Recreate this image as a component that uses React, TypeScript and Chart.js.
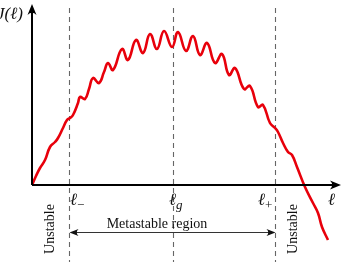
import React, { useEffect, useRef } from "react";
import { Chart, registerables } from "chart.js";

Chart.register(...registerables);

// Curve J(ℓ) (arbitrary units)
const ell = [0.0, 0.4, 0.8, 1.3, 1.8, 2.3, 2.6, 3.1, 3.5, 3.8, 4.1, 4.6, 4.8, 5.3, 5.7, 6.1, 6.7, 7.2, 7.6, 8.1, 9.0, 9.6, 10.4, 11.1, 11.8, 12.5, 13.2, 14.0, 14.6, 15.4, 16.1, 16.8, 17.5, 18.3, 19.0, 19.7, 20.3, 21.2, 21.8, 22.6, 23.1, 23.8, 24.3, 24.6, 25.1, 25.6, 26.0, 26.5, 27.3, 28.1, 28.6, 29.0, 29.6];
const J = [0.0, 0.9, 1.7, 2.5, 3.8, 4.3, 4.7, 5.7, 6.5, 6.7, 7.0, 8.2, 8.8, 8.6, 9.6, 10.7, 10.2, 11.3, 12.2, 11.5, 13.6, 12.5, 14.5, 13.2, 15.1, 13.6, 15.4, 13.8, 15.3, 13.4, 14.9, 13.0, 14.2, 12.2, 13.1, 11.0, 11.7, 9.6, 9.9, 7.8, 8.0, 6.2, 5.7, 5.3, 4.2, 3.3, 3.0, 1.8, -0.2, -1.8, -2.8, -4.2, -5.5];

// Marked lengths and labels
const markPos = [3.7, 14.1, 24.3];
const markSub = ["\u2212", "g", "+"];
const axisLabelX = "\u2113";
const axisLabelY = "J(\u2113)";
const regionLabel = "Metastable region";
const sideLabel = "Unstable";

const FAM = "\"Liberation Serif\"";

function arrowHead(ctx: CanvasRenderingContext2D, x: number, y: number, ang: number, len: number, wid: number) {
  ctx.save();
  ctx.translate(x, y);
  ctx.rotate(ang);
  ctx.beginPath();
  ctx.moveTo(0, 0);
  ctx.lineTo(-len, -wid / 2);
  ctx.quadraticCurveTo(-len * 0.6, 0, -len, wid / 2);
  ctx.closePath();
  ctx.fill();
  ctx.restore();
}

const overlay = {
  id: "overlay",
  beforeDatasetsDraw(chart: any) {
    const ctx = chart.ctx as CanvasRenderingContext2D;
    const xs = chart.scales.x;
    ctx.save();
    ctx.strokeStyle = "#666";
    ctx.lineWidth = 1.1;
    ctx.setLineDash([5, 4]);
    markPos.forEach((m) => {
      const px = Math.round(xs.getPixelForValue(m)) + 0.5;
      ctx.beginPath();
      ctx.moveTo(px, 8);
      ctx.lineTo(px, 262);
      ctx.stroke();
    });
    ctx.restore();
  },
  afterDatasetsDraw(chart: any) {
    const ctx = chart.ctx as CanvasRenderingContext2D;
    const xs = chart.scales.x;
    const ys = chart.scales.y;
    const ox = xs.getPixelForValue(0);
    const oy = ys.getPixelForValue(0);
    ctx.save();
    ctx.strokeStyle = "#000";
    ctx.fillStyle = "#000";
    ctx.lineWidth = 2;
    ctx.beginPath();
    ctx.moveTo(ox, oy);
    ctx.lineTo(334, oy);
    ctx.moveTo(ox, oy);
    ctx.lineTo(ox, 12);
    ctx.stroke();
    arrowHead(ctx, 341, oy, 0, 11, 9);
    arrowHead(ctx, ox, 4, -Math.PI / 2, 11, 9);

    ctx.fillStyle = "#111";
    ctx.textBaseline = "alphabetic";
    ctx.textAlign = "left";
    ctx.font = `italic 17px ${FAM}`;
    ctx.fillText(axisLabelY, -3, 19);
    ctx.fillText(axisLabelX, 328, 205);
    markPos.forEach((m, i) => {
      const px = xs.getPixelForValue(m);
      const startX = i === 0 ? px + 1 : i === 1 ? px - 4 : px - 17;
      ctx.font = `italic 17px ${FAM}`;
      ctx.fillText("\u2113", startX, 205);
      const w = ctx.measureText("\u2113").width;
      ctx.font = i === 1 ? `italic 13px ${FAM}` : `13px ${FAM}`;
      ctx.fillText(markSub[i], startX + w, 209);
    });

    const x1 = xs.getPixelForValue(markPos[0]);
    const x2 = xs.getPixelForValue(markPos[2]);
    ctx.strokeStyle = "#333";
    ctx.fillStyle = "#111";
    ctx.lineWidth = 1;
    ctx.beginPath();
    ctx.moveTo(x1 + 4, 232.5);
    ctx.lineTo(x2 - 4, 232.5);
    ctx.stroke();
    arrowHead(ctx, x1 + 0.5, 232.5, Math.PI, 9, 7);
    arrowHead(ctx, x2 + 0.5, 232.5, 0, 9, 7);
    ctx.font = `14px ${FAM}`;
    ctx.textAlign = "center";
    ctx.textBaseline = "middle";
    ctx.fillText(regionLabel, 157, 224);

    [50, 293].forEach((cx) => {
      ctx.save();
      ctx.translate(cx, 229);
      ctx.rotate(-Math.PI / 2);
      ctx.font = `14px ${FAM}`;
      ctx.textAlign = "center";
      ctx.textBaseline = "middle";
      ctx.fillText(sideLabel, 0, 0);
      ctx.restore();
    });
    ctx.restore();
  },
};

export default function App() {
  const ref = useRef<HTMLCanvasElement>(null);
  useEffect(() => {
    if (!ref.current) return;
    const chart = new Chart(ref.current, {
      type: "line",
      data: {
        datasets: [
          {
            data: ell.map((x, i) => ({ x, y: J[i] })),
            borderColor: "#e8000b",
            borderWidth: 2.6,
            pointRadius: 0,
            tension: 0.45,
            fill: false,
          },
        ],
      },
      options: {
        animation: false,
        responsive: false,
        layout: { padding: 0 },
        plugins: { legend: { display: false }, tooltip: { enabled: false } },
        scales: {
          x: { type: "linear", min: -3.2, max: 31.0, display: false },
          y: { type: "linear", min: -8.0, max: 18.5, display: false },
        },
      },
      plugins: [overlay],
    });
    const redraw = () => { try { chart.draw(); } catch (e) {} };
    const t1 = setTimeout(redraw, 60);
    const t2 = setTimeout(redraw, 300);
    return () => { clearTimeout(t1); clearTimeout(t2); chart.destroy(); };
  }, []);
  return (
    <div style={{ position: "fixed", left: 0, top: 0, width: 342, height: 265, background: "#fff" }}>
      <canvas ref={ref} width={342} height={265} style={{ width: 342, height: 265 }} />
    </div>
  );
}
